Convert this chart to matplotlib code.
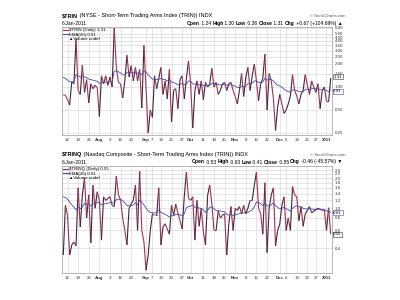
# Recreate the StockCharts $TRIN / $TRINQ two-panel chart (Jul 2010 - Jan 2011)

import numpy as np
import pandas as pd
import matplotlib
matplotlib.use("Agg")
import matplotlib.pyplot as plt
from matplotlib.collections import LineCollection
from matplotlib.lines import Line2D
from matplotlib.transforms import blended_transform_factory

plt.rcParams["font.family"] = ["Liberation Sans", "DejaVu Sans"]

# Trading days shown on the chart
holidays = ["2010-09-06", "2010-11-25", "2010-12-24"]
dates = pd.bdate_range("2010-07-08", "2011-01-05")
dates = dates[~dates.isin(pd.to_datetime(holidays))]

# NYSE TRIN daily close
trin = [
    0.79, 0.78, 0.68, 0.58, 1.17, 1.10, 4.20, 0.90, 0.80, 1.94,
    0.85, 1.25, 0.62, 1.10, 0.95, 1.05, 0.98, 0.41, 1.40, 1.10,
    1.40, 1.05, 1.35, 1.00, 5.90, 1.80, 1.15, 1.10, 0.72, 1.20,
    2.60, 1.35, 1.90, 1.20, 1.80, 1.20, 1.70, 0.53, 3.50, 0.95,
    0.25, 0.50, 0.40, 1.40, 0.95, 1.30, 1.80, 0.80, 1.20, 0.70,
    1.70, 0.35, 0.90, 0.95, 0.52, 1.25, 1.40, 0.70, 1.30, 2.20,
    1.10, 0.29, 0.90, 1.20, 0.80, 1.20, 0.68, 1.15, 1.00, 1.10,
    1.75, 1.00, 1.15, 0.80, 0.90, 1.10, 1.15, 0.90, 1.10, 1.15,
    0.90, 0.75, 0.60, 0.90, 1.50, 0.75, 1.35, 1.80, 0.90, 1.40,
    2.00, 1.20, 0.66, 1.10, 1.30, 2.70, 0.50, 1.50, 1.20, 0.70,
    0.27, 0.55, 0.80, 0.60, 0.45, 0.50, 0.60, 0.76, 1.45, 0.90,
    0.76, 0.60, 0.80, 0.90, 1.45, 1.05, 0.80, 1.20, 1.00, 0.85,
    1.10, 0.52, 0.90, 1.00, 0.65, 0.64, 1.31,
]

# Nasdaq TRINQ daily close
trinq = [
    0.34, 1.07, 0.85, 0.34, 0.43, 0.46, 0.42, 1.60, 0.65, 1.36,
    2.00, 0.80, 1.36, 0.45, 1.70, 1.00, 1.46, 1.20, 0.48, 1.30,
    1.20, 1.25, 1.30, 1.07, 1.04, 2.10, 1.36, 1.20, 0.80, 0.60,
    0.43, 1.00, 1.10, 1.20, 1.70, 0.60, 2.35, 0.60, 0.46, 0.24,
    0.34, 0.60, 0.88, 0.85, 0.85, 1.60, 0.43, 0.65, 0.70, 0.62,
    0.55, 1.07, 0.85, 1.10, 0.90, 0.75, 0.62, 1.30, 2.30, 1.25,
    1.20, 1.30, 0.48, 1.20, 0.66, 1.00, 0.58, 0.43, 1.35, 1.70,
    1.10, 0.60, 0.60, 0.94, 0.80, 0.85, 0.88, 0.34, 0.70, 1.04,
    0.60, 1.00, 0.95, 1.04, 0.88, 1.07, 0.88, 1.00, 1.20, 1.20,
    1.70, 2.30, 1.00, 0.88, 0.55, 1.80, 0.36, 1.00, 1.36, 1.60,
    0.42, 0.60, 0.70, 1.07, 1.30, 0.60, 0.80, 0.60, 1.65, 1.36,
    1.30, 0.75, 1.04, 0.66, 0.88, 0.95, 1.04, 0.90, 0.93, 0.97,
    1.00, 0.98, 0.95, 0.95, 0.60, 1.01, 0.55,
]

# EMA value at the left edge of each chart (from earlier history)
trin_ema_start = 1.40
trinq_ema_start = 1.40

# x-axis labels
tick_dates = ["2010-07-12", "2010-07-19", "2010-07-26", "2010-08-02", "2010-08-09",
              "2010-08-16", "2010-08-23", "2010-09-01", "2010-09-07", "2010-09-13",
              "2010-09-20", "2010-09-27", "2010-10-01", "2010-10-11", "2010-10-18",
              "2010-10-25", "2010-11-01", "2010-11-08", "2010-11-15", "2010-11-22",
              "2010-12-01", "2010-12-06", "2010-12-13", "2010-12-20", "2010-12-27",
              "2011-01-03"]
tick_labels = ["12", "19", "26", "Aug", "9", "16", "23", "Sep", "7", "13", "20", "27",
               "Oct", "11", "18", "25", "Nov", "8", "15", "22", "Dec", "6", "13", "20",
               "27", "2011"]
bold_labels = ["Aug", "Sep", "Oct", "Nov", "Dec", "2011"]

trin_yticks = [0.25, 0.50, 1.00, 1.50, 2.00, 2.50, 3.00, 3.50, 4.00, 4.50, 5.00, 6.00]
trinq_yticks = [0.4, 0.6, 0.8, 1.0, 1.2, 1.4, 1.6, 1.8, 2.0, 2.2, 2.4]

UP_COLOR = "#3c2a36"
DOWN_COLOR = "#a82c58"
EMA_COLOR = "#4a4aa8"
GRID = "#dadada"
FS = 3.6


def ema(values, start, span=20):
    alpha = 2.0 / (span + 1)
    out = []
    prev = start
    for v in values:
        prev = alpha * v + (1 - alpha) * prev
        out.append(prev)
    return np.array(out)


def text_row(ax, x, y, pieces, fontsize=FS):
    # pieces of text placed one after the other, some in bold
    first = ax.annotate(pieces[0][0], xy=(x, y), xycoords="figure fraction",
                        fontsize=fontsize, fontweight="bold" if pieces[0][1] else "normal",
                        va="baseline", annotation_clip=False)
    last = first
    for txt, bold in pieces[1:]:
        last = ax.annotate(txt, xy=(1, 0), xycoords=last, fontsize=fontsize,
                           fontweight="bold" if bold else "normal", va="bottom",
                           annotation_clip=False)
    return first


def draw_panel(ax, values, ema_start, yticks, fmt, ylim, name, ema_label, box_shift):
    values = np.asarray(values)
    x = np.arange(len(values))
    avg = ema(values, ema_start)

    # grid
    tick_pos = dates.get_indexer(pd.to_datetime(tick_dates))
    for p in tick_pos:
        ax.axvline(p, color=GRID, lw=0.5, zorder=0)
    for t in yticks:
        ax.axhline(t, color=GRID, lw=0.5, zorder=0)

    # price line, coloured by direction
    pts = np.column_stack([x, values])
    segs = np.stack([pts[:-1], pts[1:]], axis=1)
    cols = [UP_COLOR if b > a else DOWN_COLOR for a, b in zip(values[:-1], values[1:])]
    ax.add_collection(LineCollection(segs, colors=cols, linewidths=0.8, zorder=3))
    ax.plot(x, avg, color=EMA_COLOR, lw=0.6, zorder=4)

    ax.set_yscale("log")
    ax.set_ylim(*ylim)
    ax.set_xlim(-0.6, len(values) - 0.4)
    ax.yaxis.tick_right()
    ax.set_yticks(yticks)
    ax.set_yticklabels([fmt % t for t in yticks])
    ax.yaxis.set_minor_locator(matplotlib.ticker.NullLocator())
    ax.set_xticks(tick_pos)
    ax.set_xticklabels(tick_labels)
    for lab in ax.get_xticklabels():
        if lab.get_text() in bold_labels:
            lab.set_fontweight("bold")
    ax.tick_params(axis="both", length=0, labelsize=FS - 0.4, pad=2, colors="#333333")
    for s in ax.spines.values():
        s.set_color("#9a9a9a")
        s.set_linewidth(0.5)

    # legend
    handles = [Line2D([], [], color=DOWN_COLOR, lw=0.8),
               Line2D([], [], color=EMA_COLOR, lw=0.8),
               Line2D([], [], color="none")]
    labels = ["%s (Daily) %.2f" % (name, values[-1]),
              "%s %.2f" % (ema_label, avg[-1]),
              "\u25b2Volume undef"]
    ax.legend(handles, labels, loc="upper left", fontsize=FS - 0.4, frameon=False,
              handlelength=1.0, handletextpad=0.3, labelspacing=0.05,
              borderaxespad=0.2, borderpad=0.1)

    # boxed last values at the right axis
    tr = blended_transform_factory(ax.transAxes, ax.transData)
    for val, col, shift in [(values[-1], "#333333", box_shift[0]),
                            (avg[-1], EMA_COLOR, box_shift[1])]:
        ax.text(1.005, val * shift, "%.2f" % val, transform=tr, fontsize=FS - 0.4,
                va="center", ha="left", zorder=5,
                bbox=dict(boxstyle="square,pad=0.15", fc="white", ec=col, lw=0.4))
    return avg


fig = plt.figure(figsize=(4, 3), dpi=100)
ax1 = fig.add_axes([0.155, 0.55, 0.675, 0.36])
ax2 = fig.add_axes([0.155, 0.09, 0.675, 0.357])

draw_panel(ax1, trin, trin_ema_start, trin_yticks, "%.2f", (0.235, 6.1),
           r"\$TRIN", "EMA(20)", (1.04, 0.96))
draw_panel(ax2, trinq, trinq_ema_start, trinq_yticks, "%.1f", (0.225, 2.65),
           r"\$TRINQ", "EMA(20)", (1.0, 1.0))

# headers
text_row(ax1, 0.155, 0.943,
         [(r"\$TRIN", True), (" (NYSE - Short-Term Trading Arms Index (TRIN)) INDX", False)],
         fontsize=FS + 0.4)
fig.text(0.155, 0.918, "6-Jan-2011", fontsize=FS)
fig.text(0.865, 0.943, "\u00a9 StockCharts.com", fontsize=FS - 0.6, ha="right", color="#555555")
text_row(ax1, 0.467, 0.918,
         [("Open", True), (" 1.24 ", False), ("High", True), (" 1.30 ", False),
          ("Low", True), (" 0.36 ", False), ("Close", True), (" 1.31 ", False),
          ("Chg", True), (" +0.67 (+104.69%) \u25b2", False)])

text_row(ax2, 0.155, 0.48,
         [(r"\$TRINQ", True), (" (Nasdaq Composite - Short-Term Trading Arms Index (TRIN)) INDX", False)],
         fontsize=FS + 0.4)
fig.text(0.155, 0.455, "6-Jan-2011", fontsize=FS)
fig.text(0.865, 0.48, "\u00a9 StockCharts.com", fontsize=FS - 0.6, ha="right", color="#555555")
text_row(ax2, 0.48, 0.455,
         [("Open", True), (" 0.53 ", False), ("High", True), (" 0.63 ", False),
          ("Low", True), (" 0.41 ", False), ("Close", True), (" 0.55 ", False),
          ("Chg", True), (" -0.46 (-45.57%) \u25bc", False)])

fig.savefig("out.png", dpi=100)
